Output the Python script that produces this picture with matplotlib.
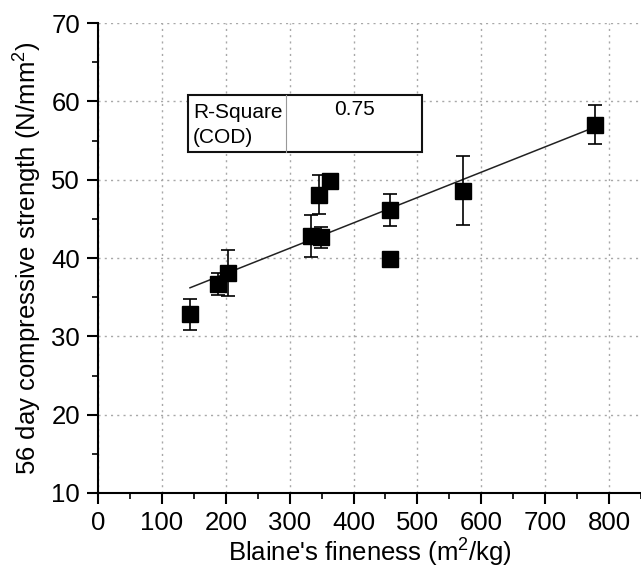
import numpy as np
import matplotlib
matplotlib.use('Agg')
import matplotlib.pyplot as plt
from matplotlib.ticker import MultipleLocator
from matplotlib.patches import Rectangle

plt.rcParams['font.family'] = ['Liberation Sans', 'DejaVu Sans']
plt.rcParams['mathtext.fontset'] = 'custom'
plt.rcParams['mathtext.rm'] = 'Liberation Sans'
plt.rcParams['mathtext.default'] = 'rm'

# data
fineness = [144, 188, 204, 333, 349.5, 346, 362.5, 456.7, 456.7, 571.4, 778]
strength = [32.8, 36.7, 38.1, 42.8, 42.65, 48.1, 49.8, 46.1, 39.85, 48.6, 57.0]
err = [2.0, 1.4, 2.9, 2.7, 1.35, 2.5, 0.0, 2.05, 0.0, 4.4, 2.5]
r_square = "0.75"

fig = plt.figure(figsize=(6.41, 5.72), dpi=100)
ax = fig.add_axes([98/641, 79/572, 543/641, 470/572])

x = np.array(fineness)
y = np.array(strength)
e = np.array(err)

ax.errorbar(x, y, yerr=np.where(e > 0, e, np.nan), fmt='none', ecolor='black',
            elinewidth=1.2, capsize=5, capthick=1.2, zorder=3)
ax.plot(x, y, 's', color='black', ms=11, zorder=4)

slope, icept = np.polyfit(x, y, 1)
xl = np.array([x.min(), x.max()])
ax.plot(xl, slope*xl + icept, color='#222222', lw=1.1, zorder=2)

ax.set_xlim(0, 850)
ax.set_ylim(10, 70)
ax.xaxis.set_major_locator(MultipleLocator(100))
ax.xaxis.set_minor_locator(MultipleLocator(50))
ax.yaxis.set_major_locator(MultipleLocator(10))
ax.yaxis.set_minor_locator(MultipleLocator(5))
ax.grid(True, which='major', linestyle=(0, (1.5, 3)), color='#a8a8a8', lw=1)
ax.set_axisbelow(True)

for s in ['top', 'right']:
    ax.spines[s].set_visible(False)
for s in ['left', 'bottom']:
    ax.spines[s].set_linewidth(1.5)
ax.tick_params(which='major', direction='out', length=8, width=1.5, labelsize=18.5, pad=5)
ax.tick_params(which='minor', direction='out', length=4, width=1.2)

ax.set_xlabel("Blaine's fineness (m$^2$/kg)", fontsize=18.5, labelpad=1)
ax.set_ylabel("56 day compressive strength (N/mm$^2$)", fontsize=18.5, labelpad=5)

# R-square box
bx0, bx1, bdiv = 141, 507, 295
by0, by1 = 53.5, 60.8
ax.add_patch(Rectangle((bx0, by0), bx1 - bx0, by1 - by0, facecolor='white',
                       edgecolor='#111111', lw=1.5, zorder=5))
ax.plot([bdiv, bdiv], [by0, by1], color='#999999', lw=0.8, zorder=6)
ax.text(bx0 + 8, 58.6, "R-Square", fontsize=15, va='center', ha='left', zorder=6)
ax.text(bx0 + 8, 55.4, "(COD)", fontsize=15, va='center', ha='left', zorder=6)
ax.text((bdiv + bx1)/2, 59.0, r_square, fontsize=15, va='center', ha='center', zorder=6)

fig.savefig('out.png', dpi=100)
